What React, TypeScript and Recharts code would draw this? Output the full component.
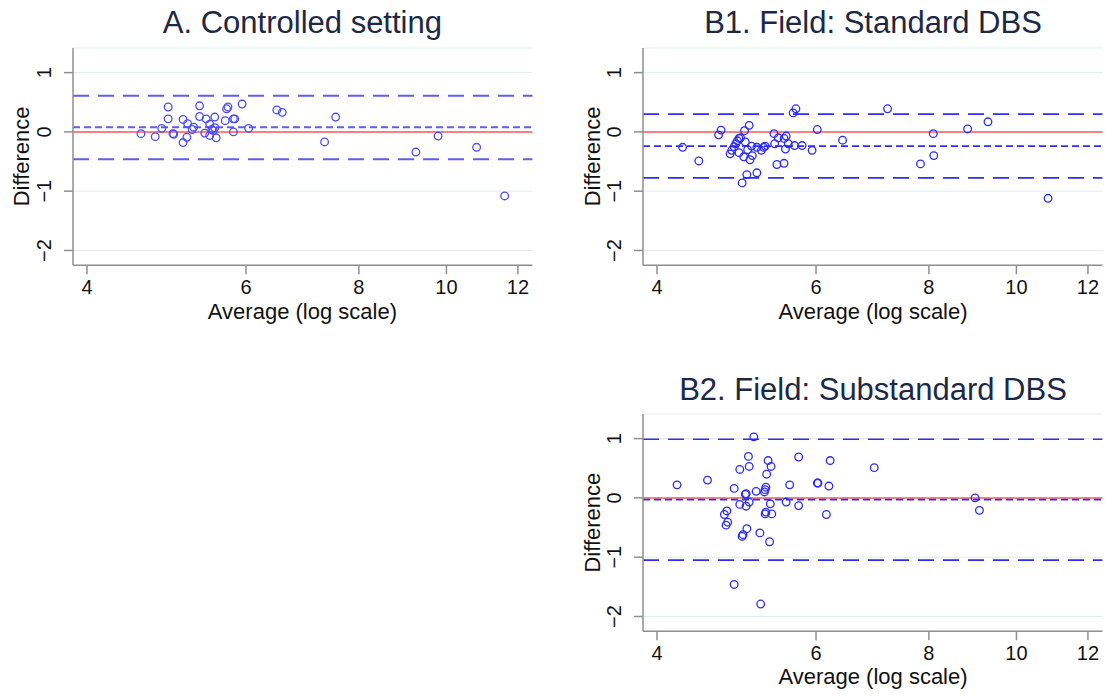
import React from 'react';
import { ScatterChart, Scatter, XAxis, YAxis, CartesianGrid, ReferenceLine } from 'recharts';

// Bland-Altman panels: average (log scale) vs difference

const X_TICKS = [4, 6, 8, 10, 12];
const Y_TICKS = [-2, -1, 0, 1];
const X_DOMAIN = [3.86, 12.45];
const Y_DOMAIN = [-2.25, 1.415];

// A. Controlled setting
const aAvg = [4.59, 4.76, 4.84, 4.92, 4.92, 4.98, 4.99, 5.11, 5.11, 5.16, 5.17, 5.23, 5.25, 5.33, 5.33, 5.4, 5.42, 5.47, 5.47, 5.5, 5.52, 5.54, 5.54, 5.56, 5.69, 5.71, 5.73, 5.81, 5.83, 5.81, 5.94, 6.04, 6.49, 6.58, 7.33, 7.54, 9.25, 9.79, 10.8, 11.6];
const aDiff = [-0.03, -0.08, 0.06, 0.42, 0.22, -0.03, -0.04, 0.21, -0.18, -0.09, 0.14, 0.04, 0.08, 0.44, 0.26, -0.02, 0.22, 0.13, -0.06, 0.04, 0.02, 0.25, 0.07, -0.1, 0.19, 0.39, 0.42, 0.22, 0.22, 0.0, 0.47, 0.06, 0.37, 0.33, -0.17, 0.25, -0.34, -0.07, -0.26, -1.08];
const aLimits = [0.61, 0.08, -0.46]; // upper, mean, lower

// B1. Field: Standard DBS
const b1Avg = [4.27, 4.45, 4.68, 4.71, 4.82, 4.84, 4.87, 4.89, 4.91, 4.93, 4.95, 4.93, 4.97, 4.99, 5.0, 5.01, 5.03, 5.04, 5.06, 5.07, 5.09, 5.1, 5.16, 5.16, 5.22, 5.25, 5.27, 5.39, 5.4, 5.43, 5.45, 5.53, 5.53, 5.55, 5.56, 5.59, 5.66, 5.7, 5.68, 5.79, 5.94, 6.02, 6.42, 7.2, 7.83, 8.09, 8.1, 8.83, 9.3, 10.84];
const b1Diff = [-0.26, -0.49, -0.05, 0.03, -0.37, -0.31, -0.25, -0.2, -0.15, -0.11, -0.1, -0.35, -0.86, -0.42, 0.02, -0.17, -0.72, -0.3, 0.11, -0.47, -0.24, -0.4, -0.26, -0.69, -0.31, -0.26, -0.24, -0.03, -0.2, -0.55, -0.1, -0.11, -0.53, -0.29, -0.07, -0.2, 0.32, 0.39, -0.23, -0.23, -0.31, 0.04, -0.14, 0.39, -0.54, -0.03, -0.4, 0.05, 0.17, -1.12];
const b1Limits = [0.3, -0.24, -0.775];

// B2. Field: Substandard DBS
const b2Avg = [4.21, 4.55, 4.75, 4.78, 4.77, 4.79, 4.87, 4.87, 4.94, 4.94, 4.97, 4.98, 5.01, 5.02, 5.02, 5.03, 5.05, 5.06, 5.06, 5.12, 5.15, 5.2, 5.21, 5.26, 5.27, 5.27, 5.28, 5.28, 5.29, 5.31, 5.33, 5.34, 5.35, 5.36, 5.56, 5.61, 5.74, 5.74, 6.02, 6.03, 6.16, 6.2, 6.22, 6.96, 9.0, 9.1];
const b2Diff = [0.22, 0.3, -0.28, -0.22, -0.46, -0.41, -1.46, 0.16, 0.48, -0.11, -0.65, -0.62, 0.06, 0.07, -0.14, -0.52, 0.7, 0.53, -0.07, 1.03, 0.11, -0.59, -1.79, 0.1, -0.27, 0.14, 0.18, -0.24, 0.4, 0.63, -0.74, -0.1, 0.53, -0.27, -0.07, 0.22, -0.13, 0.69, 0.25, 0.25, -0.28, 0.2, 0.63, 0.51, 0.0, -0.21];
const b2Limits = [0.99, -0.03, -1.05];

const FONT = '"Liberation Sans", Arial, Helvetica, sans-serif';
const TITLE_COLOR = '#1b2947';
const AXIS_COLOR = '#8f8f8f';

const PLOT_W = 459.4;
const PLOT_H = 217.3;
const Y_AXIS_W = 80;
const X_AXIS_H = 60;
const M_TOP = 10;
const M_RIGHT = 10;

const fmt = (v: number) => (v < 0 ? '\u2212' + Math.abs(v) : String(v));

const XTick = ({ x, y, payload }: any) => (
  <text x={x} y={y + 19.5} textAnchor="middle" fontSize={20} fill="#111" fontFamily={FONT}>
    {payload.value}
  </text>
);

const YTick = ({ x, y, payload }: any) => (
  <text
    x={x - 13}
    y={y}
    transform={`rotate(-90, ${x - 13}, ${y})`}
    textAnchor="middle"
    fontSize={20}
    fill="#111"
    fontFamily={FONT}
  >
    {fmt(payload.value)}
  </text>
);

interface PanelProps {
  left: number;
  top: number;
  avg: number[];
  diff: number[];
  limits: number[];
  color: string;
  lineColor: string;
  lineWidth: number;
}

const Panel = ({ left, top, avg, diff, limits, color, lineColor, lineWidth }: PanelProps) => {
  const data = avg.map((a, i) => ({ avg: a, diff: diff[i] }));
  return (
    <div style={{ position: 'absolute', left: left - Y_AXIS_W, top: top - M_TOP }}>
      <ScatterChart
        width={Y_AXIS_W + PLOT_W + M_RIGHT}
        height={M_TOP + PLOT_H + X_AXIS_H}
        margin={{ top: M_TOP, right: M_RIGHT, bottom: 0, left: 0 }}
      >
        <CartesianGrid vertical={false} stroke="#e2ecec" strokeWidth={1} />
        <XAxis
          type="number"
          dataKey="avg"
          scale="log"
          domain={X_DOMAIN}
          allowDataOverflow
          ticks={X_TICKS}
          interval={0}
          height={X_AXIS_H}
          tickSize={9}
          tickMargin={0}
          tick={<XTick />}
          axisLine={{ stroke: AXIS_COLOR, strokeWidth: 1.5 }}
          tickLine={{ stroke: AXIS_COLOR, strokeWidth: 1.5 }}
        />
        <YAxis
          type="number"
          dataKey="diff"
          domain={Y_DOMAIN}
          allowDataOverflow
          ticks={Y_TICKS}
          interval={0}
          width={Y_AXIS_W}
          tickSize={9}
          tickMargin={0}
          tick={<YTick />}
          axisLine={{ stroke: AXIS_COLOR, strokeWidth: 1.5 }}
          tickLine={{ stroke: AXIS_COLOR, strokeWidth: 1.5 }}
        />
        <ReferenceLine y={0} stroke="#ff5a5a" strokeWidth={1.5} />
        <ReferenceLine y={limits[0]} stroke={lineColor} strokeWidth={lineWidth} strokeDasharray="16 9" />
        <ReferenceLine y={limits[1]} stroke={lineColor} strokeWidth={lineWidth} strokeDasharray="7 4" />
        <ReferenceLine y={limits[2]} stroke={lineColor} strokeWidth={lineWidth} strokeDasharray="16 9" />
        <Scatter
          data={data}
          isAnimationActive={false}
          shape={(p: any) => (
            <circle cx={p.cx} cy={p.cy} r={3.8} fill="none" stroke={color} strokeWidth={1.3} />
          )}
        />
      </ScatterChart>
    </div>
  );
};

const Title = ({ x, y, text }: { x: number; y: number; text: string }) => (
  <text x={x} y={y} textAnchor="middle" fontSize={31} fill={TITLE_COLOR} fontFamily={FONT}>
    {text}
  </text>
);

const XLabel = ({ x, y }: { x: number; y: number }) => (
  <text x={x} y={y} textAnchor="middle" fontSize={22} fill="#111" fontFamily={FONT}>
    Average (log scale)
  </text>
);

const YLabel = ({ x, y }: { x: number; y: number }) => (
  <text x={x} y={y} transform={`rotate(-90, ${x}, ${y})`} textAnchor="middle" fontSize={22} fill="#111" fontFamily={FONT}>
    Difference
  </text>
);

export default function App() {
  return (
    <div style={{ position: 'fixed', left: 0, top: 0, width: 1115, height: 696, background: '#fff', overflow: 'hidden' }}>
      <Panel left={72.7} top={47.7} avg={aAvg} diff={aDiff} limits={aLimits} color="#4a4aff" lineColor="#5c5cf8" lineWidth={2} />
      <Panel left={643.3} top={47.7} avg={b1Avg} diff={b1Diff} limits={b1Limits} color="#2a2aff" lineColor="#2e2ef5" lineWidth={1.6} />
      <Panel left={643.3} top={414} avg={b2Avg} diff={b2Diff} limits={b2Limits} color="#2a2aff" lineColor="#2e2ef5" lineWidth={1.6} />
      <svg width={1115} height={696} style={{ position: 'absolute', left: 0, top: 0, pointerEvents: 'none' }}>
        <Title x={302.4} y={33.3} text="A. Controlled setting" />
        <Title x={873} y={33.3} text="B1. Field: Standard DBS" />
        <Title x={873} y={400} text="B2. Field: Substandard DBS" />
        <XLabel x={302.4} y={318.5} />
        <XLabel x={873} y={318.5} />
        <XLabel x={873} y={684} />
        <YLabel x={29} y={156.4} />
        <YLabel x={599.6} y={156.4} />
        <YLabel x={599.6} y={522.6} />
      </svg>
    </div>
  );
}
